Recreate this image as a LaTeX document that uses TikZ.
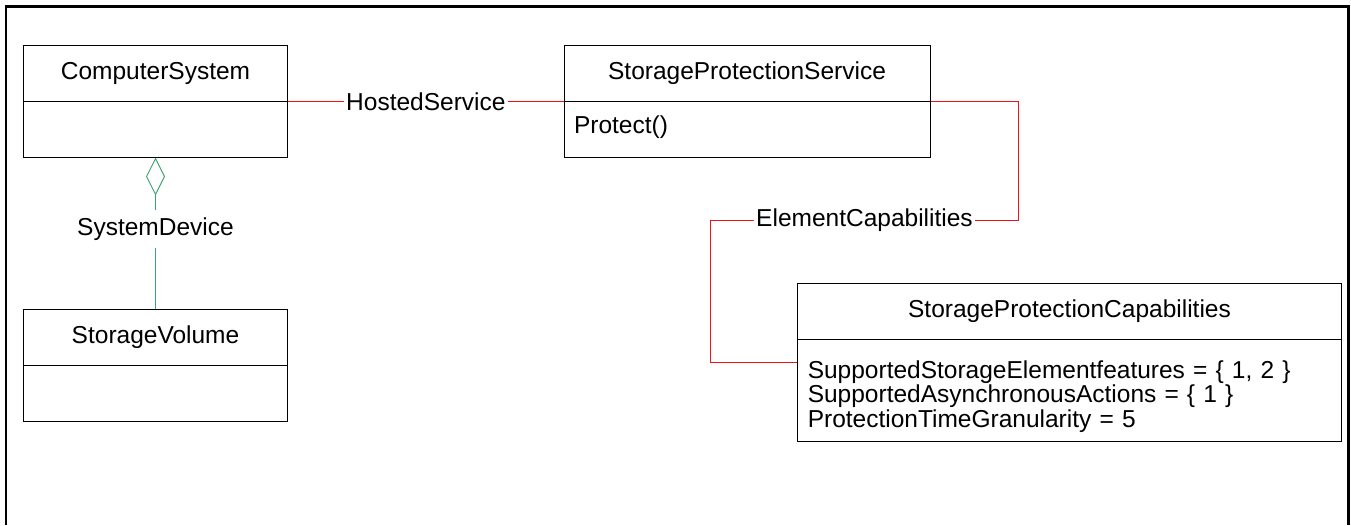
\documentclass[tikz,border=0pt]{standalone}
\usepackage{fontspec}
\setmainfont{Liberation Sans}
\usetikzlibrary{arrows.meta}
\definecolor{assocred}{RGB}{235,20,20}
\definecolor{aggrgreen}{RGB}{60,165,110}
\tikzset{
  classname/.style={draw, line width=1pt, minimum height=56pt, inner sep=0pt, font=\fontsize{24.5}{24.5}\selectfont},
  classbody/.style={draw, line width=1pt, minimum height=56pt, inner xsep=10pt, inner ysep=0pt, align=left, font=\fontsize{24.5}{24.5}\selectfont},
  assoc/.style={assocred, line width=1pt},
  aggr/.style={aggrgreen, line width=1pt},
  assoclabel/.style={fill=white, text=black, inner xsep=2pt, inner ysep=8pt, font=\fontsize{24.5}{24.5}\selectfont}
}
\begin{document}
\begin{tikzpicture}[x=1pt, y=-1pt]
        \useasboundingbox (0,0) rectangle (1351,525);
        % outer frame
        \draw[line width=2.5pt] (6,525) -- (6,6.5) -- (1348.5,6.5) -- (1348.5,525);

        % Draw the classes
        \node[classname, minimum width=264.5pt] (cs) at (155.5,73) {ComputerSystem};
        \node[classbody, minimum width=264.5pt] (csbody) at (155.5,129) {};
        \node[classname, minimum width=264.5pt] (sv) at (155.5,337) {StorageVolume};
        \node[classbody, minimum width=264.5pt] (svbody) at (155.5,393) {};
        \node[classname, minimum width=366pt] (sps) at (747,73) {StorageProtectionService};
        \node[classbody, text width=346pt, text depth=8pt] (spsbody) at (747,129) {Protect()};
        \node[classname, minimum width=543.5pt] (spc) at (1069.5,311.5) {StorageProtectionCapabilities};
        \node[classbody, text width=523.5pt, minimum height=102pt, text depth=42pt] (spcbody) at (1069.5,390.6)
            {SupportedStorageElementfeatures = \{ 1, 2 \}\\
             SupportedAsynchronousActions = \{ 1 \}\\
             ProtectionTimeGranularity = 5};

        % Draw the associations
        \draw[assoc] (cs.south east) -- node[assoclabel] {HostedService} (sps.south west);
        \draw[aggr, {Diamond[open, length=38pt, width=19pt]}-] (csbody.south) -- node[assoclabel, yshift=4pt] {SystemDevice} (sv.north);
        \draw[assoc] (sps.south east) -- ++(88,0) |- node[assoclabel, pos=0.75] {ElementCapabilities} ++(-308,119)
            |- ([yshift=-23pt]spcbody.north west);
    \end{tikzpicture}
\end{document}
